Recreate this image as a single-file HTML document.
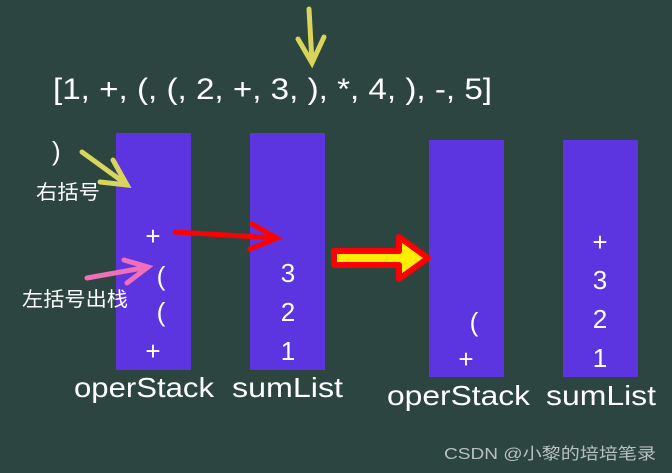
<!DOCTYPE html>
<html><head><meta charset="utf-8"><style>
html,body{margin:0;padding:0;background:#2c4541;width:672px;height:473px;overflow:hidden}
text{font-family:"Liberation Sans","Noto Sans CJK SC",sans-serif;fill:#fff}
</style></head><body>
<svg width="672" height="473" viewBox="0 0 672 473" xmlns="http://www.w3.org/2000/svg">
<rect width="672" height="473" fill="#2c4541"/>
<g stroke="#d9d45a" stroke-width="5" fill="none" stroke-linecap="round">
<line x1="309" y1="9" x2="312" y2="62"/>
<polyline points="298,39 312,63 324,37"/>
</g>
<text x="53" y="99" font-size="30" textLength="439" lengthAdjust="spacingAndGlyphs">[1, +, (, (, 2, +, 3, ), *, 4, ), -, 5]</text>
<rect x="116" y="133" width="75" height="237" fill="#5c35e0"/>
<rect x="250" y="133" width="75" height="237" fill="#5c35e0"/>
<rect x="429" y="140" width="75" height="237" fill="#5c35e0"/>
<rect x="563" y="140" width="75" height="237" fill="#5c35e0"/>
<text x="52" y="160" font-size="26">)</text>
<text x="36" y="199" font-size="20" textLength="64" lengthAdjust="spacingAndGlyphs">右括号</text>
<text x="22" y="306" font-size="20" textLength="106" lengthAdjust="spacingAndGlyphs">左括号出栈</text>
<g stroke="#d9d45a" stroke-width="5" fill="none" stroke-linecap="round">
<line x1="82" y1="152" x2="126" y2="184"/>
<polyline points="100,182 127,185 113,160"/>
</g>
<g stroke="#f06fb8" stroke-width="5" fill="none" stroke-linecap="round">
<line x1="87" y1="278" x2="148" y2="267"/>
<polyline points="124,260 148,267 127,283"/>
</g>
<g stroke="#ff0000" stroke-width="5" fill="none" stroke-linecap="round">
<line x1="175" y1="232" x2="276" y2="238"/>
<polyline points="252,224 277,238 250,249"/>
</g>
<g font-size="26" text-anchor="middle">
<text x="153" y="245">+</text>
<text x="161" y="285">(</text>
<text x="161" y="321">(</text>
<text x="153" y="360">+</text>
<text x="288" y="282">3</text>
<text x="288" y="321">2</text>
<text x="288" y="360">1</text>
<text x="474" y="331">(</text>
<text x="466" y="368">+</text>
<text x="600" y="251">+</text>
<text x="600" y="289">3</text>
<text x="600" y="328">2</text>
<text x="600" y="367">1</text>
</g>
<g font-size="28">
<text x="74" y="397" textLength="140" lengthAdjust="spacingAndGlyphs">operStack</text>
<text x="232" y="397" textLength="111" lengthAdjust="spacingAndGlyphs">sumList</text>
<text x="387" y="405" textLength="143" lengthAdjust="spacingAndGlyphs">operStack</text>
<text x="546" y="405" textLength="110" lengthAdjust="spacingAndGlyphs">sumList</text>
</g>
<path d="M334,251 L399,251 L399,237 L428,258 L399,279 L399,265 L334,265 Z" fill="#ffee00" stroke="#ff0000" stroke-width="6" stroke-linejoin="round"/>
<text x="444" y="459" font-size="16" textLength="212" lengthAdjust="spacingAndGlyphs" style="fill:#b8c0be">CSDN @小黎的培培笔录</text>
</svg>
</body></html>
